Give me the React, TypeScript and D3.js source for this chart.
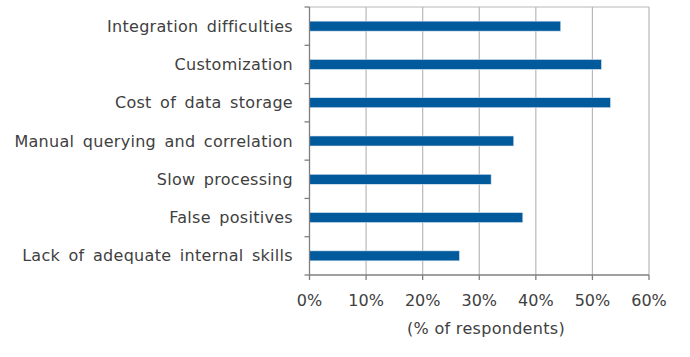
import React from "react";
import * as d3 from "d3";

const categories = [
  "Integration difficulties",
  "Customization",
  "Cost of data storage",
  "Manual querying and correlation",
  "Slow processing",
  "False positives",
  "Lack of adequate internal skills",
];
const values = [44.4, 51.6, 53.2, 36.1, 32.1, 37.7, 26.5];
const xTicks = [0, 10, 20, 30, 40, 50, 60];
const axisTitle = "(% of respondents)";

export default function App() {
  const W = 690, H = 357;
  const left = 309.5, right = 649, top = 7, bottom = 275;
  const x = d3.scaleLinear().domain([0, 60]).range([left, right]);
  const y = d3.scaleBand().domain(categories).range([top, bottom]);
  const barH = 10;
  const font = "'DejaVu Sans', sans-serif";
  const txt = "#404040";
  const fs = 16;
  const ls = 0.3;
  const ws = 3;
  return (
    <svg width={W} height={H} style={{ position: "absolute", left: 0, top: 0 }}>
      <rect width={W} height={H} fill="#fff" />
      {xTicks.slice(1).map((t) => (
        <line key={"g" + t} x1={x(t)} x2={x(t)} y1={top} y2={bottom} stroke="#b8b8b8" strokeWidth={1.2} />
      ))}
      <line x1={left} x2={right} y1={top} y2={top} stroke="#b8b8b8" strokeWidth={1.2} />
      {categories.map((c, i) => (
        <rect
          key={c}
          x={x(0)}
          y={(y(c) as number) + y.bandwidth() / 2 - barH / 2}
          width={x(values[i]) - x(0)}
          height={barH}
          fill="#005a9c"
          stroke="#dbe6f1"
          strokeWidth={0.6}
        />
      ))}
      <line x1={left} x2={left} y1={top} y2={bottom} stroke="#7f7f7f" strokeWidth={1.3} />
      {d3.range(categories.length + 1).map((i) => {
        const yy = top + (i * (bottom - top)) / categories.length;
        return <line key={"lt" + i} x1={left - 5} x2={left} y1={yy} y2={yy} stroke="#7f7f7f" strokeWidth={1.3} />;
      })}
      <line x1={left} x2={right} y1={bottom} y2={bottom} stroke="#7f7f7f" strokeWidth={1.3} />
      {xTicks.map((t) => (
        <line key={"bt" + t} x1={x(t)} x2={x(t)} y1={bottom} y2={bottom + 5} stroke="#7f7f7f" strokeWidth={1.3} />
      ))}
      {categories.map((c) => (
        <text
          key={"l" + c}
          x={293}
          y={(y(c) as number) + y.bandwidth() / 2}
          dy="0.35em"
          textAnchor="end"
          fontFamily={font}
          fontSize={fs}
          letterSpacing={ls}
          wordSpacing={ws}
          fill={txt}
        >
          {c}
        </text>
      ))}
      {xTicks.map((t) => (
        <text key={"xl" + t} x={x(t)} y={300} dy="0.35em" textAnchor="middle" fontFamily={font} fontSize={fs} fill={txt}>
          {t + "%"}
        </text>
      ))}
      <text x={486} y={328} dy="0.35em" textAnchor="middle" fontFamily={font} fontSize={fs} letterSpacing={ls} fill={txt}>
        {axisTitle}
      </text>
    </svg>
  );
}
